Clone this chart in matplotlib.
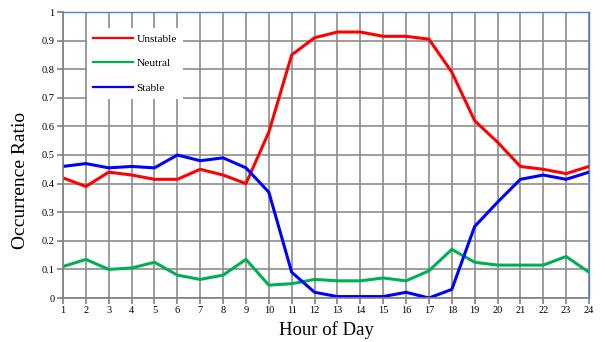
import matplotlib.pyplot as plt
import numpy as np

hours = np.arange(1, 25)
unstable = [0.42, 0.39, 0.44, 0.43, 0.415, 0.415, 0.45, 0.43, 0.40, 0.58, 0.85, 0.91,
            0.93, 0.93, 0.915, 0.915, 0.905, 0.79, 0.62, 0.545, 0.46, 0.45, 0.435, 0.46]
neutral = [0.11, 0.135, 0.10, 0.105, 0.125, 0.08, 0.065, 0.08, 0.135, 0.045, 0.05, 0.065,
           0.06, 0.06, 0.07, 0.06, 0.095, 0.17, 0.125, 0.115, 0.115, 0.115, 0.145, 0.09]
stable = [0.46, 0.47, 0.455, 0.46, 0.455, 0.50, 0.48, 0.49, 0.455, 0.37, 0.09, 0.02,
          0.005, 0.005, 0.005, 0.02, 0.0, 0.03, 0.25, 0.335, 0.415, 0.43, 0.415, 0.44]

plt.rcParams['font.family'] = ['Liberation Serif', 'DejaVu Serif']

fig = plt.figure(figsize=(6.05, 3.42), dpi=100)
ax1 = fig.add_axes([63/605, 1 - 298/342, (589-63)/605, (298-12)/342])

ax1.plot(hours, unstable, c='#ff0000', lw=2.2, label='Unstable')
ax1.plot(hours, neutral, c='#00b050', lw=2.2, label='Neutral')
ax1.plot(hours, stable, c='#0000ff', lw=2.2, label='Stable')

ax1.set_xlim(1, 24)
ax1.set_ylim(0, 1)
ax1.set_xticks(hours)
ax1.set_yticks(np.arange(0, 1.01, 0.1))
ax1.set_yticklabels(['0'] + ['%g' % v for v in np.round(np.arange(0.1, 1.0, 0.1), 1)] + ['1'])
ax1.tick_params(labelsize=7.5, length=4, width=1.2, color='#808080', pad=2)
ax1.grid(color='#8c8c8c', lw=1.2)
ax1.set_axisbelow(True)
for s in ['top', 'right']:
    ax1.spines[s].set_color('#4f81bd')
    ax1.spines[s].set_linewidth(1)
for s in ['left', 'bottom']:
    ax1.spines[s].set_color('#808080')
    ax1.spines[s].set_linewidth(1.2)

ax1.set_xlabel('Hour of Day', fontsize=13.5)
ax1.xaxis.set_label_coords(0.5, -0.08)
ax1.set_ylabel('Occurrence Ratio', fontsize=14)
ax1.yaxis.set_label_coords(-0.065, 0.41)

leg = ax1.legend(loc='upper left', bbox_to_anchor=(0.046, 0.944), fontsize=8.2,
                 frameon=True, fancybox=False, edgecolor='none', framealpha=1,
                 handlelength=3.5, handletextpad=0.3, labelspacing=1.25,
                 borderpad=0.55, borderaxespad=0)
for h in leg.get_lines():
    h.set_linewidth(1.6)

plt.savefig('out.png', dpi=100)
